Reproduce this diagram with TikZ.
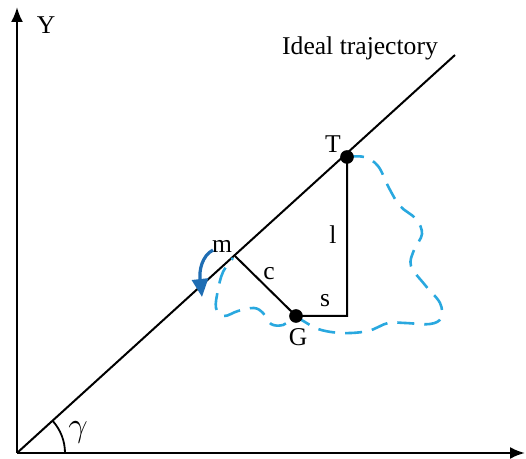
\documentclass[tikz,border=0pt]{standalone}
\usepackage{fontspec}
\setmainfont{Liberation Serif}
\usetikzlibrary{arrows.meta}
\definecolor{SwayBlue}{HTML}{29A8DF}
\definecolor{TurnBlue}{HTML}{1F6DB3}

\begin{document}
\begin{tikzpicture}[x=0.5pt, y=-0.5pt, thick, every node/.style={font=\fontsize{12.8}{15}\selectfont, inner sep=0pt}]
        \useasboundingbox (0,0) rectangle (526,459);

        % Points
        \coordinate (O) at (17,453);
        \coordinate (Ytop) at (17,7);
        \coordinate (Xend) at (525,453);
        \coordinate (End) at (455,55);
        \coordinate (T) at (347,157);
        \coordinate (G) at (296,316);
        \coordinate (K) at (347,316);
        \coordinate (m) at (235,256);

        % Axes
        \draw[line width=1.2pt, -{Latex[length=7.5pt, width=6pt]}] (O) -- (Ytop);
        \draw[line width=1.2pt, -{Latex[length=7.5pt, width=6pt]}] (O) -- (Xend);
        \node (ylab) at (46,25) {Y};

        % Ideal trajectory
        \draw[line width=1pt] (O) -- (End);
        \node[anchor=base] (ideal) at (360,55) {Ideal trajectory};
        \draw[line width=0.9pt] ([shift={(24pt,0pt)}]O) arc[start angle=0, end angle=42.3, radius=24pt];
        \node[font=\fontsize{17}{20}\selectfont] (gam) at (78,432) {$\gamma$};

        % Deviation
        \draw[SwayBlue, line width=1.3pt, dash pattern=on 8.5pt off 5pt] plot[smooth, tension=0.6] coordinates {
            (347,157) (364,157) (378,166) (389,188) (400,206) (416,219) (422,234) (414,250)
            (411,266) (425,285) (440,303) (441,318) (430,324) (405,323) (388,323) (368,331)
            (342,333) (318,329) (296,318) (283,325) (271,324) (263,313) (254,308) (238,311)
            (224,316) (216,308) (218,290) (223,272) (233,258)};
        \draw[line width=1pt] (m) -- (G) -- (K) -- (T);
        \filldraw (T) circle (3pt);
        \filldraw (G) circle (3pt);
        \node (Tlab) at (333,144) {T};
        \node (Glab) at (298,337) {G};
        \node (mlab) at (222,246) {m};
        \node (clab) at (269,274) {c};
        \node (slab) at (325,301) {s};
        \node (llab) at (333,235) {l};

        % Turn
        \draw[TurnBlue, line width=1.6pt, -{Triangle[length=9pt, width=8pt]}] (213,250) .. controls (202,256) and (199,270) .. (202,297);
    \end{tikzpicture}
\end{document}
